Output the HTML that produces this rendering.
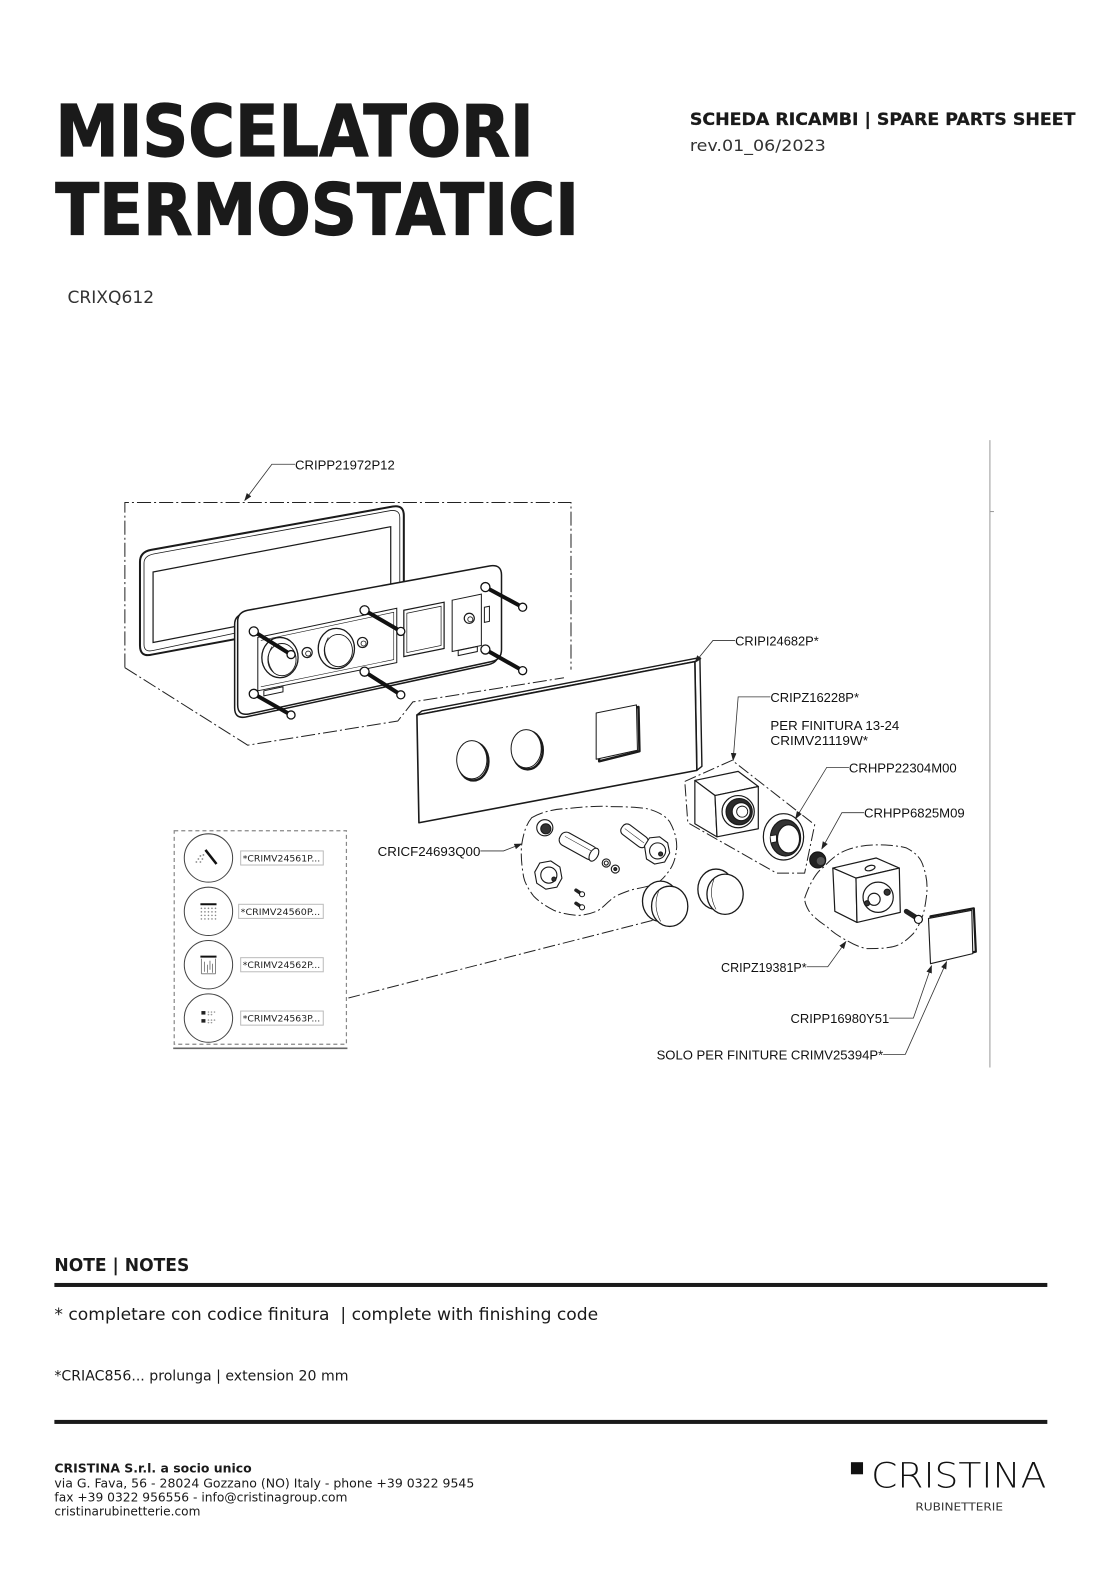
<!DOCTYPE html>
<html><head><meta charset="utf-8">
<style>
html,body{margin:0;padding:0;background:#fff;}
svg{display:block;}
</style></head><body>
<svg width="1116" height="1578" viewBox="0 0 1108.2 1567" preserveAspectRatio="none" xmlns="http://www.w3.org/2000/svg">
<defs>
<marker id="ar" markerUnits="userSpaceOnUse" viewBox="0 0 10 10" refX="9" refY="5" markerWidth="8" markerHeight="8" orient="auto"><path d="M0,1.5 L10,5 L0,8.5 z" fill="#222"/></marker>
</defs>
<rect width="1108.2" height="1567" fill="#fff"/>

<!-- HEADER -->
<g fill="#1a1a1a" font-family="'DejaVu Sans', Verdana, sans-serif">
<text x="55" y="155" font-weight="bold" font-size="71" textLength="475" lengthAdjust="spacingAndGlyphs" stroke="#1a1a1a" stroke-width="1.2">MISCELATORI</text>
<text x="55" y="233" font-weight="bold" font-size="71" textLength="520" lengthAdjust="spacingAndGlyphs" stroke="#1a1a1a" stroke-width="1.2">TERMOSTATICI</text>
<text x="685" y="124" font-weight="bold" font-size="17" textLength="383" lengthAdjust="spacingAndGlyphs" stroke="#1a1a1a" stroke-width="0.3">SCHEDA RICAMBI | SPARE PARTS SHEET</text>
<text x="685" y="150" font-size="16" textLength="135" lengthAdjust="spacingAndGlyphs" fill="#333">rev.01_06/2023</text>
<text x="67" y="301" font-size="17" textLength="86" lengthAdjust="spacingAndGlyphs" fill="#333">CRIXQ612</text>
</g>

<!-- right vertical line -->
<line x1="983" y1="437" x2="983" y2="1060" stroke="#999" stroke-width="1"/>
<line x1="983" y1="508" x2="987" y2="508" stroke="#999" stroke-width="1"/>

<!-- big dash-dot box -->
<g fill="none" stroke="#222" stroke-width="1" stroke-dasharray="14 3 2 3">
<path d="M124,663 V499 H567 V665"/>
<path d="M124,663 L246,740 L395,716 L410,697 L560,673"/>
</g>

<!-- FRAME -->
<g fill="none" stroke="#1a1a1a">
<path d="M150,546 L390,503 Q401,501 401,512 L401,596 Q401,603 394,605 L151,650 Q139,653 139,641 L139,558 Q139,548 150,546 Z" stroke-width="2"/>
<path d="M153,550 L388,507 Q397,506 397,514 L397,594 L152,646 Q143,648 143,640 L143,559 Q143,552 153,550 Z" stroke-width="0.8"/>
<path d="M152,568 L388,523 L388,592 L152,638 Z" stroke-width="1.2"/>
</g>

<!-- MOUNTING PLATE -->
<g stroke="#1a1a1a">
<path d="M243,609 L483,565 Q495,563 495,574 L495,648 Q495,658 485,660 L244,712 Q233,714 233,703 L233,620 Q233,611 243,609 Z" fill="#fff" stroke-width="1.5"/>
<path d="M246,606 L486,562 Q498,560 498,571 L498,645 Q498,655 488,657 L247,709 Q236,711 236,700 L236,617 Q236,608 246,606 Z" fill="#fff" stroke-width="1.5"/>
<path d="M256,633 L394,604 L394,658 L256,686 Z" fill="none" stroke-width="1"/>
<path d="M259,636 L391,608 L391,655 L259,682" fill="none" stroke-width="0.6"/>
<path d="M401,606 L441,598 L441,644 L401,652 Z" fill="none" stroke-width="1.2"/>
<path d="M404,609 L438,602 L438,641 L404,648 Z" fill="none" stroke-width="0.7"/>
<path d="M449,596 L478,590 L478,641 L449,647 Z" fill="none" stroke-width="1"/>
<circle cx="466" cy="614" r="5" fill="#fff" stroke-width="1.2"/>
<circle cx="467" cy="615" r="2.5" fill="none" stroke-width="0.8"/>
<path d="M481,603 L486,602 L486,617 L481,618 Z" fill="none" stroke-width="1"/>
<path d="M262,686 L281,682 L281,687 L262,691 Z" fill="none" stroke-width="1"/>
<path d="M455,646 L474,642 L474,647 L455,651 Z" fill="none" stroke-width="1"/>
<ellipse cx="278" cy="653" rx="18" ry="20" fill="#fff" stroke-width="1.3"/>
<ellipse cx="280" cy="655" rx="14" ry="16" fill="none" stroke-width="0.9"/>
<path d="M270,642 Q262,656 272,668" fill="none" stroke-width="0.7"/>
<ellipse cx="334" cy="644" rx="18" ry="20" fill="#fff" stroke-width="1.3"/>
<ellipse cx="336" cy="646" rx="14" ry="16" fill="none" stroke-width="0.9"/>
<path d="M326,633 Q318,647 328,659" fill="none" stroke-width="0.7"/>
<circle cx="305" cy="648" r="5" fill="#fff" stroke-width="1.2"/>
<circle cx="306" cy="649" r="2.5" fill="none" stroke-width="0.8"/>
<circle cx="360" cy="638" r="5" fill="#fff" stroke-width="1.2"/>
<circle cx="361" cy="639" r="2.5" fill="none" stroke-width="0.8"/>
</g>

<!-- SCREWS -->
<g stroke="#111">
<g stroke-width="4" stroke-linecap="round">
<line x1="252" y1="627" x2="289" y2="650"/>
<line x1="252" y1="689" x2="289" y2="710"/>
<line x1="362" y1="606" x2="398" y2="627"/>
<line x1="362" y1="667" x2="398" y2="690"/>
<line x1="482" y1="583" x2="519" y2="603"/>
<line x1="482" y1="645" x2="519" y2="666"/>
</g>
<g fill="#fff" stroke-width="1.3">
<circle cx="252" cy="627" r="4.5"/><circle cx="289" cy="650" r="4"/>
<circle cx="252" cy="689" r="4.5"/><circle cx="289" cy="710" r="4"/>
<circle cx="362" cy="606" r="4.5"/><circle cx="398" cy="627" r="4"/>
<circle cx="362" cy="667" r="4.5"/><circle cx="398" cy="690" r="4"/>
<circle cx="482" cy="583" r="4.5"/><circle cx="519" cy="603" r="4"/>
<circle cx="482" cy="645" r="4.5"/><circle cx="519" cy="666" r="4"/>
</g>
</g>

<!-- FRONT PLATE -->
<g stroke="#1a1a1a">
<path d="M414,710 L419,706 L695,653 L697,761 L692,765 L690,657 Z" fill="#fff" stroke-width="1.4" stroke-linejoin="round"/>
<path d="M414,710 L690,657 L692,765 L416,817 Z" fill="#fff" stroke-width="1.6" stroke-linejoin="round"/>
<ellipse cx="470" cy="756" rx="15" ry="19" fill="none" stroke-width="2.4"/>
<ellipse cx="468.5" cy="754.5" rx="15" ry="19" fill="#fff" stroke-width="1"/>
<ellipse cx="524" cy="745" rx="15" ry="19" fill="none" stroke-width="2.4"/>
<ellipse cx="522.5" cy="743.5" rx="15" ry="19" fill="#fff" stroke-width="1"/>
<path d="M594,710 L634,702 L635,746 L595,756 Z" fill="none" stroke-width="2.4" stroke-linejoin="round"/>
<path d="M592,708 L632,700 L633,745 L592,754 Z" fill="#fff" stroke-width="1" stroke-linejoin="round"/>
</g>

<!-- dash-dot groups -->
<g fill="none" stroke="#222" stroke-width="1" stroke-dasharray="12 3 2 3">
<path d="M528,812 C540,805 555,803 563,803 C580,801 600,800 606,801 C625,801 640,802 646,804 C658,808 662,812 665,816 C670,825 672,833 672,841 C671,852 669,858 665,864 C660,871 656,875 652,877 C640,882 632,882 626,884 C615,888 610,890 606,894 C600,899 597,903 592,905 C585,908 578,909 573,909 C562,908 555,906 550,904 C540,899 534,894 530,890 C524,882 521,876 520,871 C518,860 517,848 518,839 C520,826 523,818 528,812 Z"/>
<path d="M680,776 L727,755 L809,819 L799,867 L771,867 L683,817 Z"/>
<path d="M799,892 C803,880 810,866 818,861 C826,852 833,847 841,844 C852,840 862,839 871,839 C882,839 893,840 900,842 C910,847 915,853 917,861 C921,872 921,882 920,890 C919,898 918,903 917,907 C914,916 911,922 907,927 C900,934 895,938 887,940 C878,942 869,942 861,942 C854,941 846,937 841,934 C833,930 826,925 821,920 C813,915 806,909 803,904 C800,899 799,895 799,892 Z"/>
<path d="M648,914 L346,991"/>
</g>

<!-- CUBE 1 -->
<g stroke="#1a1a1a" stroke-width="1.2" stroke-linejoin="round" fill="#fff">
<path d="M690,775 L733,766 L753,781 L710,790 Z"/>
<path d="M690,775 L710,790 L712,831 L690,818 Z"/>
<path d="M710,790 L753,781 L753,823 L712,831 Z"/>
<circle cx="733" cy="806" r="16"/>
<circle cx="734" cy="806" r="13" fill="#2a2a2a"/>
<circle cx="736" cy="806" r="9" fill="#fff"/>
<circle cx="737" cy="806" r="5.5" fill="#fff" stroke-width="0.9"/>
</g>
<!-- RING -->
<g stroke="#1a1a1a" stroke-width="1.2">
<ellipse cx="778" cy="831" rx="20" ry="23" fill="#fff"/>
<ellipse cx="780" cy="832" rx="15" ry="18" fill="#333"/>
<ellipse cx="783" cy="833" rx="11" ry="14" fill="#fff"/>
<path d="M765,830 L771,829 L771,836 L766,837" fill="#fff" stroke-width="0.9"/>
</g>
<!-- NUT -->
<circle cx="812" cy="854" r="8" fill="#222" stroke="#111"/>
<circle cx="815" cy="855" r="4" fill="#555"/>

<!-- CUBE 2 -->
<g stroke="#1a1a1a" stroke-width="1.2" stroke-linejoin="round" fill="#fff">
<path d="M827,862 L870,852 L893,862 L850,872 Z"/>
<path d="M827,862 L850,872 L851,916 L829,905 Z"/>
<path d="M850,872 L893,862 L894,906 L851,916 Z"/>
<ellipse cx="864" cy="862" rx="5" ry="2.5" transform="rotate(-15 864 862)"/>
<circle cx="872" cy="891" r="15"/>
<circle cx="868" cy="893" r="6"/>
<circle cx="881" cy="886" r="3" fill="#333"/>
<circle cx="861" cy="897" r="2.5" fill="#333"/>
</g>
<!-- small screw -->
<line x1="900" y1="905" x2="911" y2="912" stroke="#222" stroke-width="5" stroke-linecap="round"/>
<circle cx="912" cy="913" r="4" fill="#fff" stroke="#111" stroke-width="1.2"/>
<!-- CAP -->
<g stroke="#1a1a1a" stroke-linejoin="round">
<path d="M924,910 L967,902 L969,945 L926,955 Z" fill="#fff" stroke-width="2.2"/>
<path d="M922,912 L965,904 L966,947 L924,957 Z" fill="#fff" stroke-width="1.1"/>
</g>

<!-- CARTRIDGES -->
<g stroke="#1a1a1a" stroke-width="1.1" fill="#fff">
<circle cx="541" cy="822" r="8"/>
<circle cx="542" cy="823" r="5" fill="#333"/>
<g transform="translate(574,840) rotate(29)"><rect x="-20" y="-7" width="40" height="14" rx="6"/><ellipse cx="18" cy="0" rx="4" ry="7"/><line x1="-16" y1="-2" x2="14" y2="-2" stroke-width="0.5"/></g>
<g transform="translate(630,830) rotate(37)"><rect x="-15" y="-6" width="30" height="12" rx="5"/><line x1="-12" y1="0" x2="12" y2="0" stroke-width="0.5"/></g>
<path d="M640,840 L645,832 L655,831 L663,837 L665,847 L660,856 L650,858 L642,853 Z"/>
<circle cx="653" cy="845" r="8"/>
<circle cx="656" cy="848" r="2" fill="#333"/>
<path d="M531,866 L536,857 L547,855 L556,861 L558,872 L553,881 L542,883 L533,877 Z"/>
<circle cx="545" cy="869" r="8"/>
<circle cx="550" cy="873" r="2" fill="#333"/>
<circle cx="602" cy="857" r="4"/>
<circle cx="602" cy="857" r="2" fill="none"/>
<circle cx="611" cy="863" r="4"/>
<circle cx="611" cy="863" r="1.5" fill="#333"/>
</g>
<g stroke="#222" stroke-width="3.5" stroke-linecap="round">
<line x1="572" y1="884" x2="578" y2="888"/>
<line x1="572" y1="897" x2="578" y2="901"/>
</g>
<circle cx="578" cy="888" r="2.5" fill="#fff" stroke="#111"/>
<circle cx="578" cy="901" r="2.5" fill="#fff" stroke="#111"/>

<!-- KNOBS -->
<g stroke="#1a1a1a" stroke-width="1.3" fill="#fff">
<ellipse cx="656" cy="895" rx="18" ry="20"/>
<ellipse cx="665" cy="900" rx="18" ry="20"/>
<path d="M654,885 Q648,900 656,915" fill="none" stroke-width="0.6"/>
<ellipse cx="711" cy="883" rx="18" ry="20"/>
<ellipse cx="720" cy="888" rx="18" ry="20"/>
<path d="M709,873 Q703,888 711,903" fill="none" stroke-width="0.6"/>
</g>

<!-- LEADERS -->
<g fill="none" stroke="#333" stroke-width="0.8" marker-end="url(#ar)">
<path d="M293,461 H270 L243,497"/>
<path d="M730,636 H708 L690,658"/>
<path d="M765,692 H733 L728,755"/>
<path d="M843,762 H821 L790,813"/>
<path d="M858,807 H836 L816,843"/>
<path d="M477,845 H500 L518,838"/>
<path d="M801,960 H822 L840,935"/>
<path d="M883,1011 H907 L925,959"/>
<path d="M877,1047 H899 L940,955"/>
</g>

<!-- LABELS -->
<g font-family="'Liberation Sans', Arial, sans-serif" font-size="13" fill="#111">
<text x="293" y="466" textLength="99" lengthAdjust="spacingAndGlyphs">CRIPP21972P12</text>
<text x="730" y="641" textLength="83" lengthAdjust="spacingAndGlyphs">CRIPI24682P*</text>
<text x="765" y="697" textLength="88" lengthAdjust="spacingAndGlyphs">CRIPZ16228P*</text>
<text x="765" y="725" textLength="128" lengthAdjust="spacingAndGlyphs">PER FINITURA 13-24</text>
<text x="765" y="740" textLength="97" lengthAdjust="spacingAndGlyphs">CRIMV21119W*</text>
<text x="843" y="767" textLength="107" lengthAdjust="spacingAndGlyphs">CRHPP22304M00</text>
<text x="858" y="812" textLength="100" lengthAdjust="spacingAndGlyphs">CRHPP6825M09</text>
<text x="375" y="850" textLength="102" lengthAdjust="spacingAndGlyphs">CRICF24693Q00</text>
<text x="716" y="965" textLength="85" lengthAdjust="spacingAndGlyphs">CRIPZ19381P*</text>
<text x="785" y="1016" textLength="98" lengthAdjust="spacingAndGlyphs">CRIPP16980Y51</text>
<text x="652" y="1052" textLength="225" lengthAdjust="spacingAndGlyphs">SOLO PER FINITURE CRIMV25394P*</text>
</g>

<!-- LEGEND BOX -->
<rect x="173" y="825" width="171" height="212" fill="none" stroke="#888" stroke-width="1.2" stroke-dasharray="4 3"/>
<line x1="172" y1="1041" x2="345" y2="1041" stroke="#666" stroke-width="1.5"/>
<g fill="#fff" stroke="#444" stroke-width="1">
<circle cx="207" cy="852" r="24"/>
<circle cx="207" cy="905" r="24"/>
<circle cx="207" cy="958" r="24"/>
<circle cx="207" cy="1011" r="24"/>
</g>
<g fill="none" stroke="#bbb" stroke-width="1">
<rect x="239" y="845" width="82" height="14"/>
<rect x="237" y="898" width="84" height="14"/>
<rect x="239" y="951" width="82" height="14"/>
<rect x="239" y="1004" width="82" height="14"/>
</g>
<g font-family="'DejaVu Sans', Verdana, sans-serif" font-size="9" fill="#222">
<text x="241" y="855.5" textLength="77" lengthAdjust="spacingAndGlyphs">*CRIMV24561P...</text>
<text x="239" y="908.5" textLength="79" lengthAdjust="spacingAndGlyphs">*CRIMV24560P...</text>
<text x="241" y="961.5" textLength="77" lengthAdjust="spacingAndGlyphs">*CRIMV24562P...</text>
<text x="241" y="1014.5" textLength="77" lengthAdjust="spacingAndGlyphs">*CRIMV24563P...</text>
</g>
<!-- icons -->
<line x1="204" y1="844" x2="215" y2="858" stroke="#111" stroke-width="2.5"/>
<g fill="#888">
<circle cx="199" cy="850" r="0.9"/><circle cx="201" cy="853" r="0.9"/><circle cx="197" cy="853" r="0.9"/><circle cx="199" cy="856" r="0.9"/><circle cx="202" cy="849" r="0.9"/><circle cx="195" cy="856" r="0.9"/>
</g>
<line x1="199" y1="898" x2="215" y2="898" stroke="#111" stroke-width="2"/>
<g fill="#888">
<circle cx="200" cy="902" r="0.8"/><circle cx="203.5" cy="902" r="0.8"/><circle cx="207" cy="902" r="0.8"/><circle cx="210.5" cy="902" r="0.8"/><circle cx="214" cy="902" r="0.8"/>
<circle cx="200" cy="905.5" r="0.8"/><circle cx="203.5" cy="905.5" r="0.8"/><circle cx="207" cy="905.5" r="0.8"/><circle cx="210.5" cy="905.5" r="0.8"/><circle cx="214" cy="905.5" r="0.8"/>
<circle cx="200" cy="909" r="0.8"/><circle cx="203.5" cy="909" r="0.8"/><circle cx="207" cy="909" r="0.8"/><circle cx="210.5" cy="909" r="0.8"/><circle cx="214" cy="909" r="0.8"/>
<circle cx="200" cy="912.5" r="0.8"/><circle cx="203.5" cy="912.5" r="0.8"/><circle cx="207" cy="912.5" r="0.8"/><circle cx="210.5" cy="912.5" r="0.8"/><circle cx="214" cy="912.5" r="0.8"/>
</g>
<line x1="199" y1="950" x2="215" y2="950" stroke="#111" stroke-width="2"/>
<g stroke="#777" stroke-width="0.9">
<line x1="200" y1="952" x2="200" y2="967"/><line x1="214" y1="952" x2="214" y2="967"/>
<line x1="203" y1="955" x2="203" y2="965"/><line x1="206" y1="958" x2="206" y2="966"/><line x1="208.5" y1="954" x2="208.5" y2="963"/><line x1="211" y1="957" x2="211" y2="966"/>
<line x1="200" y1="967" x2="214" y2="967"/>
</g>
<rect x="200" y="1004" width="4" height="3.5" fill="#222"/>
<rect x="200" y="1012" width="4" height="3.5" fill="#222"/>
<g fill="#999">
<circle cx="207" cy="1005" r="0.8"/><circle cx="210" cy="1005" r="0.8"/><circle cx="213" cy="1005" r="0.8"/><circle cx="207" cy="1007.5" r="0.8"/><circle cx="210" cy="1007.5" r="0.8"/>
<circle cx="207" cy="1013" r="0.8"/><circle cx="210" cy="1013" r="0.8"/><circle cx="213" cy="1013" r="0.8"/><circle cx="207" cy="1015.5" r="0.8"/><circle cx="210" cy="1015.5" r="0.8"/>
</g>

<!-- NOTES -->
<g font-family="'DejaVu Sans', Verdana, sans-serif" fill="#1a1a1a">
<text x="54" y="1262" font-weight="bold" font-size="17.5" textLength="134" lengthAdjust="spacingAndGlyphs">NOTE | NOTES</text>
<rect x="54" y="1274" width="986" height="4"/>
<text x="54" y="1311" font-size="17" textLength="540" lengthAdjust="spacingAndGlyphs" style="white-space:pre" xml:space="preserve">* completare con codice finitura  | complete with finishing code</text>
<text x="54" y="1371" font-size="14" textLength="292" lengthAdjust="spacingAndGlyphs">*CRIAC856... prolunga | extension 20 mm</text>
<rect x="54" y="1410" width="986" height="4"/>
<text x="54" y="1462" font-weight="bold" font-size="12.3" textLength="196" lengthAdjust="spacingAndGlyphs">CRISTINA S.r.l. a socio unico</text>
<text x="54" y="1477" font-size="12" textLength="417" lengthAdjust="spacingAndGlyphs">via G. Fava, 56 - 28024 Gozzano (NO) Italy - phone +39 0322 9545</text>
<text x="54" y="1491" font-size="12" textLength="291" lengthAdjust="spacingAndGlyphs">fax +39 0322 956556 - info@cristinagroup.com</text>
<text x="54" y="1505" font-size="12" textLength="145" lengthAdjust="spacingAndGlyphs">cristinarubinetterie.com</text>
</g>

<!-- LOGO -->
<rect x="845" y="1452" width="12" height="12" fill="#111"/>
<text x="865" y="1477" font-family="'DejaVu Sans', 'Liberation Sans', sans-serif" font-weight="200" font-size="34.5" textLength="174" lengthAdjust="spacingAndGlyphs" fill="#111">CRISTINA</text>
<text x="909" y="1500" font-family="'DejaVu Sans', 'Liberation Sans', sans-serif" font-size="10.5" textLength="87" lengthAdjust="spacingAndGlyphs" fill="#333">RUBINETTERIE</text>
</svg>
</body></html>
